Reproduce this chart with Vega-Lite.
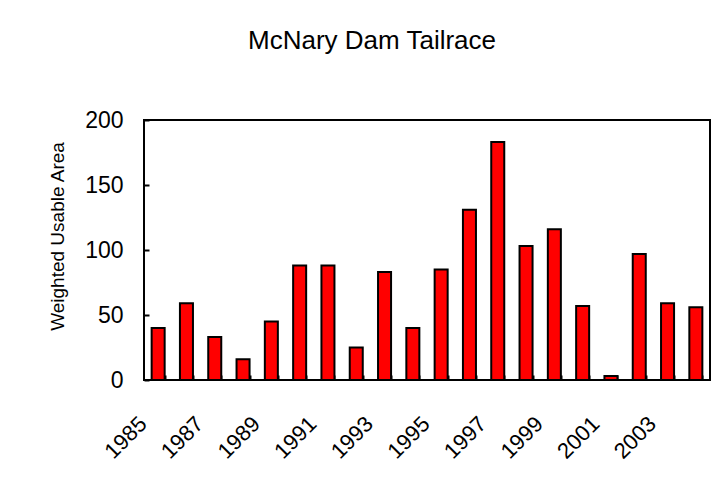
{
  "$schema": "https://vega.github.io/schema/vega-lite/v6.json",
  "width": 566,
  "height": 260,
  "autosize": {"type": "none"},
  "padding": {"left": 144, "top": 120, "right": 4, "bottom": 107},
  "background": "white",
  "config": {
    "view": {"stroke": "black", "strokeWidth": 2},
    "font": "Liberation Sans"
  },
  "title": {
    "text": "McNary Dam Tailrace",
    "fontSize": 26,
    "fontWeight": "normal",
    "font": "Liberation Sans",
    "color": "black",
    "frame": "group",
    "anchor": "middle",
    "dx": -55,
    "offset": 34,
    "baseline": "alphabetic"
  },
  "data": {
    "values": [
      {"year": 1985, "area": 40},
      {"year": 1986, "area": 59},
      {"year": 1987, "area": 33},
      {"year": 1988, "area": 16},
      {"year": 1989, "area": 45},
      {"year": 1990, "area": 88},
      {"year": 1991, "area": 88},
      {"year": 1992, "area": 25},
      {"year": 1993, "area": 83},
      {"year": 1994, "area": 40},
      {"year": 1995, "area": 85},
      {"year": 1996, "area": 131},
      {"year": 1997, "area": 183},
      {"year": 1998, "area": 103},
      {"year": 1999, "area": 116},
      {"year": 2000, "area": 57},
      {"year": 2001, "area": 3},
      {"year": 2002, "area": 97},
      {"year": 2003, "area": 59},
      {"year": 2004, "area": 56}
    ]
  },
  "layer": [
    {
      "mark": {"type": "bar", "fill": "#FF0000", "stroke": "black", "strokeWidth": 2},
      "encoding": {
        "x": {
          "field": "year",
          "type": "ordinal",
          "scale": {"paddingInner": 0.54, "paddingOuter": 0.27},
          "axis": {
            "orient": "bottom",
            "title": null,
            "domain": false,
            "grid": false,
            "tickBand": "center",
            "tickSize": -5,
            "tickColor": "black",
            "tickWidth": 2,
            "labelAngle": -45,
            "labelAlign": "right",
            "labelBaseline": "middle",
            "labelFontSize": 22,
            "labelColor": "black",
            "labelPadding": 45,
            "labelOffset": -15,
            "labelOverlap": false,
            "labelExpr": "datum.value % 2 == 1 ? datum.label : ''"
          }
        },
        "y": {
          "field": "area",
          "type": "quantitative",
          "scale": {"domain": [0, 200], "nice": false},
          "axis": {
            "orient": "left",
            "values": [0, 50, 100, 150, 200],
            "domain": false,
            "grid": false,
            "tickSize": -5,
            "tickWidth": 2,
            "tickColor": "black",
            "labelFontSize": 23,
            "labelColor": "black",
            "labelPadding": 26,
            "title": "Weighted Usable Area",
            "titleFontSize": 19,
            "titleFontWeight": "normal",
            "titleColor": "black",
            "titleAngle": -90,
            "titleX": -87,
            "titleY": 116,
            "titleAlign": "center",
            "titleBaseline": "middle"
          }
        }
      }
    },
    {
      "mark": {"type": "bar", "opacity": 0},
      "encoding": {
        "x": {
          "field": "year",
          "type": "ordinal",
          "axis": {
            "orient": "bottom",
            "title": null,
            "domain": false,
            "grid": false,
            "labels": false,
            "tickBand": "extent",
            "tickSize": -5,
            "tickColor": "black",
            "tickWidth": 2
          }
        },
        "y": {"field": "area", "type": "quantitative"}
      }
    }
  ],
  "resolve": {"axis": {"x": "independent"}}
}
